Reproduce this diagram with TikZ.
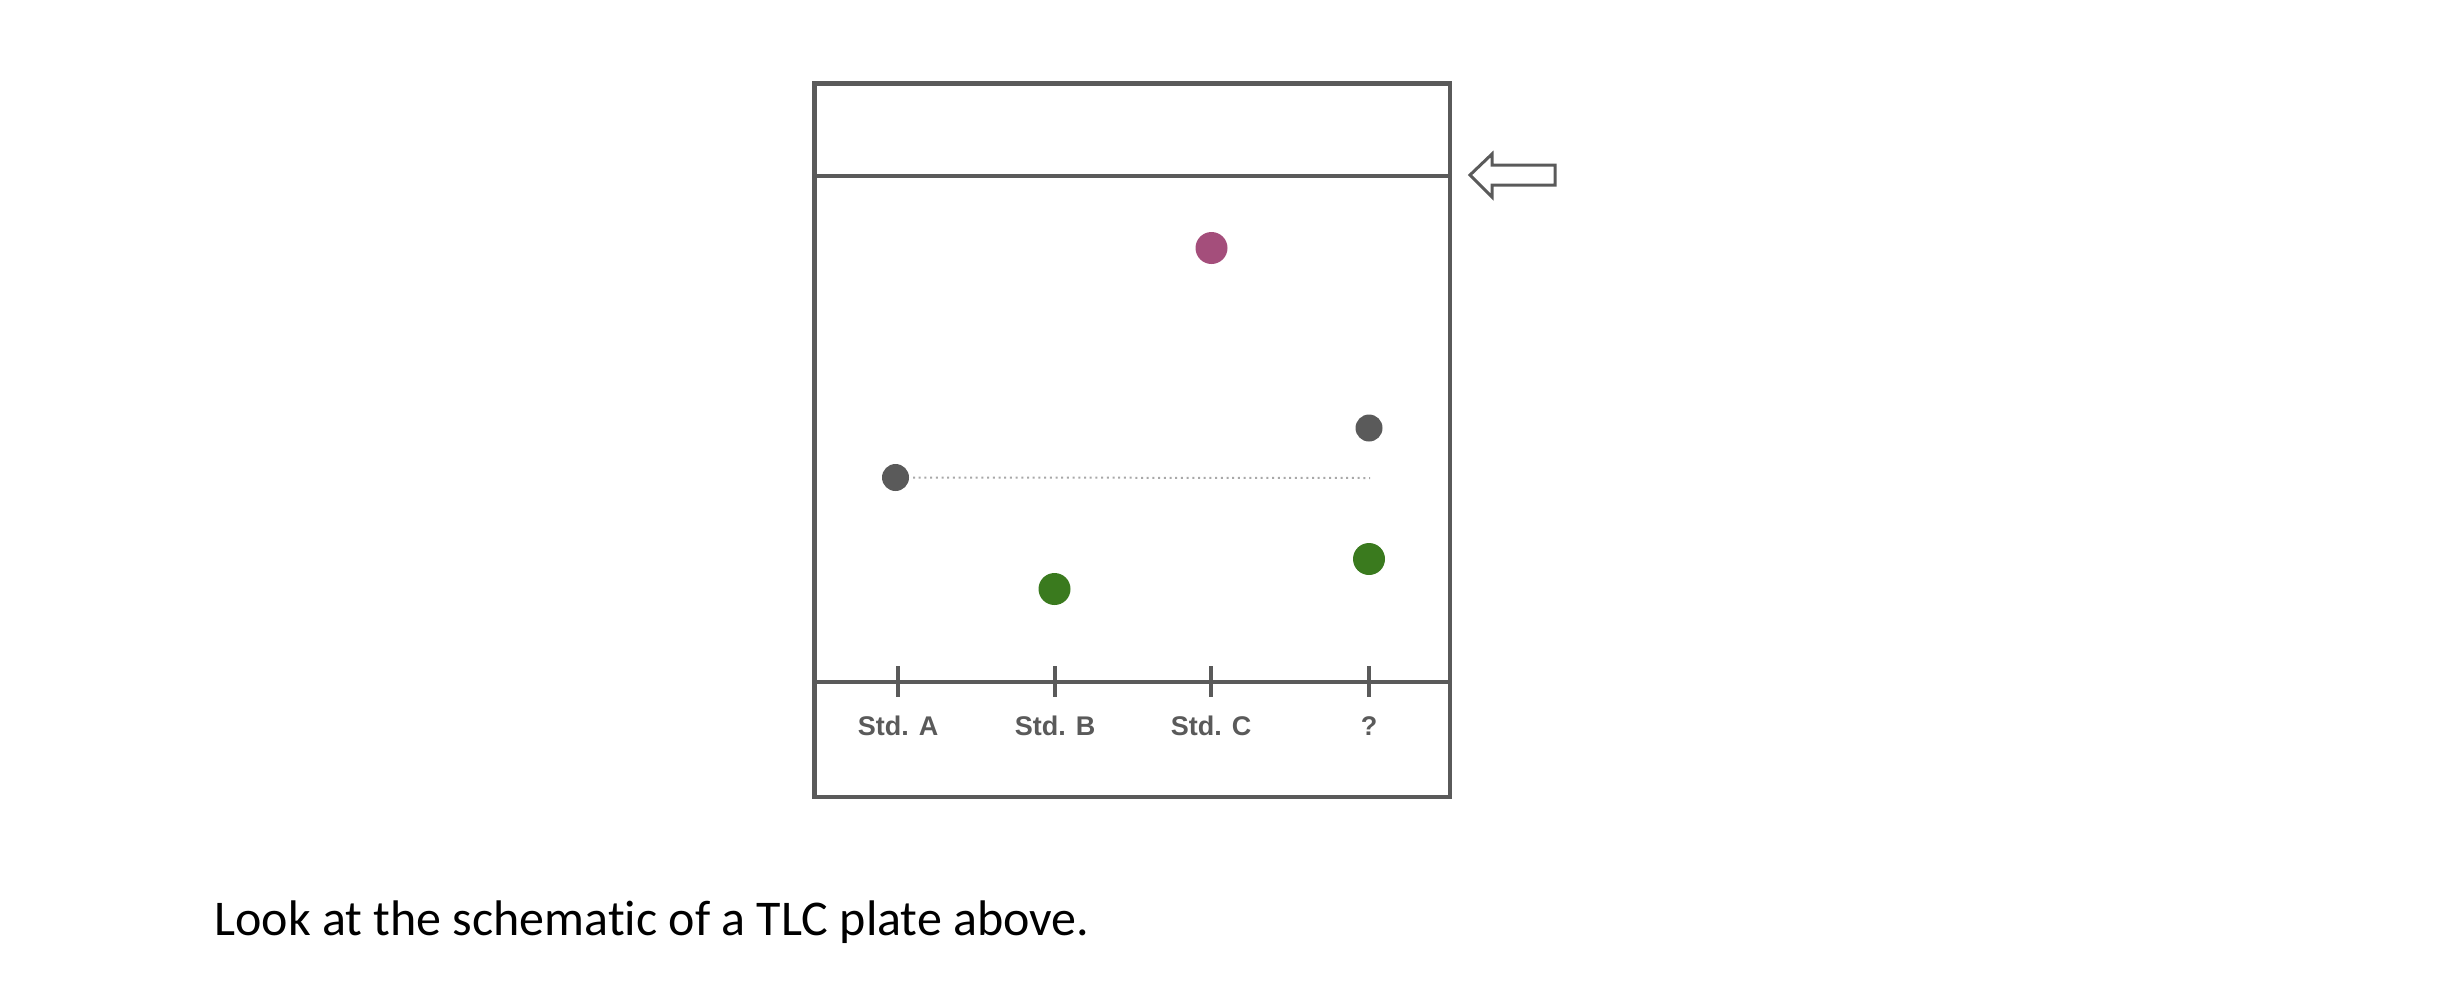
\documentclass[tikz,border=0pt]{standalone}
\usepackage{fontspec}
\setmainfont{Liberation Sans}
\newfontfamily\notefont[RawFeature=-liga]{Carlito}
\definecolor{plategrey}{HTML}{5A5A5A}
\definecolor{spotgrey}{HTML}{5A5A5A}
\definecolor{spotgreen}{HTML}{3A7A1E}
\definecolor{spotmagenta}{HTML}{A44E7B}
\definecolor{dotgrey}{HTML}{A8A8A8}
\tikzset{
  plateline/.style={draw=plategrey, line width=2.4pt},
  tickline/.style={draw=plategrey, line width=2pt},
  spotbase/.style={circle, inner sep=0pt, outer sep=0pt},
  greyspot/.style={spotbase, fill=spotgrey, minimum size=13.5pt},
  greenspot/.style={spotbase, fill=spotgreen, minimum size=16pt},
  magentaspot/.style={spotbase, fill=spotmagenta, minimum size=16pt},
  lanelabel/.style={anchor=base, text=plategrey, font=\bfseries\fontsize{13.5}{16}\selectfont, inner sep=0pt},
  frontarrow/.style={draw=plategrey, line width=1.5pt, line join=miter},
  guide/.style={draw=dotgrey, line width=1pt, dash pattern=on 1pt off 1.85pt}
}
\begin{document}
\begin{tikzpicture}[x=0.5pt, y=-0.5pt]
\useasboundingbox (0,0) rectangle (2445,996);
% plate
\draw[plateline] (814.5,83.5) rectangle (1450,797);
\draw[plateline] (814.5,176) -- (1450,176);
\draw[plateline] (814.5,682) -- (1450,682);
% ticks
\foreach \x in {898,1055,1211,1369} {
  \draw[tickline] (\x,666) -- (\x,697);
}
% lane labels
\node[lanelabel] (la) at (898,735) {Std. A};
\node[lanelabel] (lb) at (1055,735) {Std. B};
\node[lanelabel] (lc) at (1211,735) {Std. C};
\node[lanelabel] (lq) at (1369,735) {?};
% guide line
\coordinate (qlevel) at (1370,478);
% spots
\node[greyspot] (a1) at (895.5,477.5) {};
\node[greenspot] (b1) at (1054.5,589) {};
\node[magentaspot] (c1) at (1211.5,248) {};
\node[greyspot] (q1) at (1369,428) {};
\node[greenspot] (q2) at (1369,559) {};
\draw[guide] (a1.east) ++(4,0) -- (qlevel);
% solvent front arrow
\draw[frontarrow] (1470,175) -- (1492,154) -- (1492,165) -- (1555,165) -- (1555,185) -- (1492,185) -- (1492,197) -- cycle;
% caption
\node[anchor=base west, inner sep=0pt, font=\notefont\fontsize{25}{29}\selectfont] (cap) at (214,935) {Look at the schematic of a TLC plate above.};
\end{tikzpicture}
\end{document}
